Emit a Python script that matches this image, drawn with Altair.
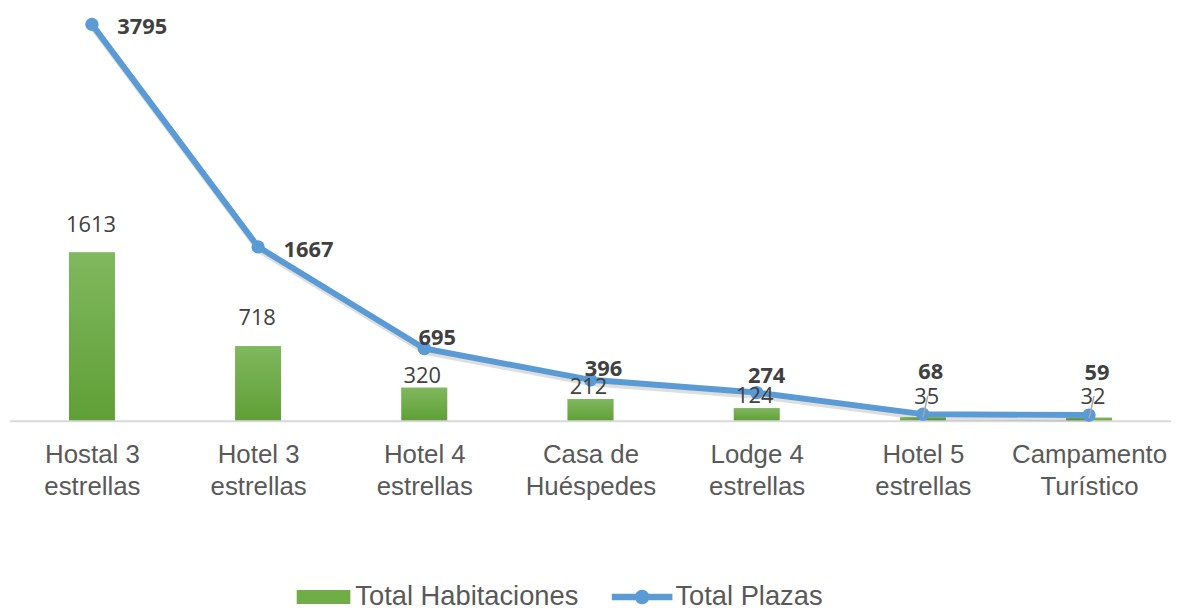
import altair as alt
import pandas as pd

categorias = [
    "Hostal 3 estrellas",
    "Hotel 3 estrellas",
    "Hotel 4 estrellas",
    "Casa de Huéspedes",
    "Lodge 4 estrellas",
    "Hotel 5 estrellas",
    "Campamento Turístico",
]
habitaciones = [1613, 718, 320, 212, 124, 35, 32]
plazas = [3795, 1667, 695, 396, 274, 68, 59]

df = pd.DataFrame({
    "categoria": categorias,
    "hab": habitaciones,
    "plazas": plazas,
    "s_hab": "Total Habitaciones",
    "s_pla": "Total Plazas",
})

FONT_AX = "Liberation Sans"
FONT_LB = "Open Sans"
GRAY_TXT = "#595959"
LBL_TXT = "#404040"
BLUE = "#5b9bd5"
GREEN = "#70ad47"

label_expr = ("[slice(datum.label, 0, lastindexof(datum.label, ' ')), "
              "slice(datum.label, lastindexof(datum.label, ' ') + 1)]")

x_enc = alt.X(
    "categoria:N",
    sort=categorias,
    scale=alt.Scale(type="point", range=[84.5, 1088.5], padding=0),
    axis=alt.Axis(
        title=None, domain=False, ticks=False, tickSize=0, grid=False,
        labelAngle=0, labelExpr=label_expr, labelFont=FONT_AX,
        labelFontSize=26, labelColor=GRAY_TXT, labelLineHeight=32,
        labelPadding=21, labelLimit=400,
    ),
)
y_scale = alt.Scale(domain=[0, 3932], nice=False, zero=True)

base = alt.Chart(df)

rect_path = "M-1,-0.265L1,-0.265L1,0.265L-1,0.265Z"
line_path = ("M-1,-0.11L1,-0.11L1,0.11L-1,0.11Z "
             "M0.24,0A0.24,0.24 0 1,1 -0.24,0A0.24,0.24 0 1,1 0.24,0Z")

bars_legend = base.mark_bar(size=46).encode(
    x=x_enc,
    y=alt.Y("hab:Q", scale=y_scale, axis=None),
    fill=alt.Fill(
        "s_hab:N",
        scale=alt.Scale(domain=["Total Habitaciones"], range=[GREEN]),
        legend=alt.Legend(
            orient="none", legendX=290.7, legendY=564, title=None,
            symbolType=rect_path, symbolSize=2916, symbolStrokeWidth=0,
            labelFont=FONT_AX, labelFontSize=27.5, labelColor=GRAY_TXT,
            labelOffset=5, padding=0, labelLimit=400,
        ),
    ),
)

grad = alt.Gradient(
    gradient="linear",
    stops=[alt.GradientStop(color="#80b85e", offset=0),
           alt.GradientStop(color="#5f9f36", offset=1)],
    x1=0, x2=0, y1=0, y2=1,
)
bars_grad = base.mark_bar(size=46, color=grad).encode(
    x=x_enc, y=alt.Y("hab:Q", scale=y_scale, axis=None)
)

baseline = base.transform_filter(
    "datum.categoria == 'Hostal 3 estrellas'"
).transform_calculate(zero="0").mark_rule(color="#d9d9d9", strokeWidth=2).encode(
    y=alt.Y("zero:Q", scale=y_scale, axis=None),
    x=alt.value(2), x2=alt.value(1171),
)

line_shadow = base.mark_line(color="#000000", opacity=0.13, strokeWidth=7,
                             xOffset=1.5, yOffset=3, strokeJoin="round").encode(
    x=x_enc, y=alt.Y("plazas:Q", scale=y_scale, axis=None)
)
line = base.mark_line(color=BLUE, strokeWidth=6, strokeJoin="round",
                      strokeCap="round").encode(
    x=x_enc, y=alt.Y("plazas:Q", scale=y_scale, axis=None)
)
points = base.mark_circle(size=180, opacity=1).encode(
    x=x_enc,
    y=alt.Y("plazas:Q", scale=y_scale, axis=None),
    color=alt.Color(
        "s_pla:N",
        scale=alt.Scale(domain=["Total Plazas"], range=[BLUE]),
        legend=alt.Legend(
            orient="none", legendX=608, legendY=560.5, title=None,
            symbolType=line_path, symbolSize=3721, symbolStrokeWidth=0,
            labelFont=FONT_AX, labelFontSize=27.5, labelColor=GRAY_TXT,
            labelOffset=3, padding=0, labelLimit=400,
        ),
    ),
)

leaders = base.transform_filter(
    alt.FieldOneOfPredicate(field="categoria", oneOf=categorias[5:])
).mark_rule(color="#a6a6a6", strokeWidth=1.5, x2Offset=5, y2Offset=-22).encode(
    x=x_enc, x2=alt.X2("categoria"),
    y=alt.Y("hab:Q", scale=y_scale, axis=None), y2=alt.Y2("hab"),
)


def text_layer(field, cats, dx, dy, align="center", bold=False):
    return base.transform_filter(
        alt.FieldOneOfPredicate(field="categoria", oneOf=cats)
    ).mark_text(
        align=align, baseline="middle", dx=dx, dy=dy, font=FONT_LB,
        fontSize=22, fontWeight="bold" if bold else "normal", color=LBL_TXT,
    ).encode(
        x=x_enc,
        y=alt.Y(f"{field}:Q", scale=y_scale, axis=None),
        text=alt.Text(f"{field}:Q"),
    )


hab_labels = [
    text_layer("hab", categorias[0:2], -1, -28),
    text_layer("hab", categorias[2:5], -2, -12),
    text_layer("hab", categorias[5:7], 4, -21),
]
pla_labels = [
    text_layer("plazas", categorias[0:2], 25.5, 3, align="left", bold=True),
    text_layer("plazas", categorias[2:4], 13, -11, bold=True),
    text_layer("plazas", categorias[4:5], 10, -17, bold=True),
    text_layer("plazas", categorias[5:7], 8, -42, bold=True),
]

chart = alt.layer(
    bars_legend, bars_grad, baseline, line_shadow, line, points, leaders,
    *hab_labels, *pla_labels,
).resolve_scale(
    fill="independent", color="independent"
).properties(
    width=1171, height=414,
    autosize=alt.AutoSizeParams(type="none"),
    padding={"left": 0, "top": 0, "right": 0, "bottom": 186},
    background="white",
).configure_view(stroke=None)

chart.save("out.html", embed_options={"renderer": "svg", "actions": False})
